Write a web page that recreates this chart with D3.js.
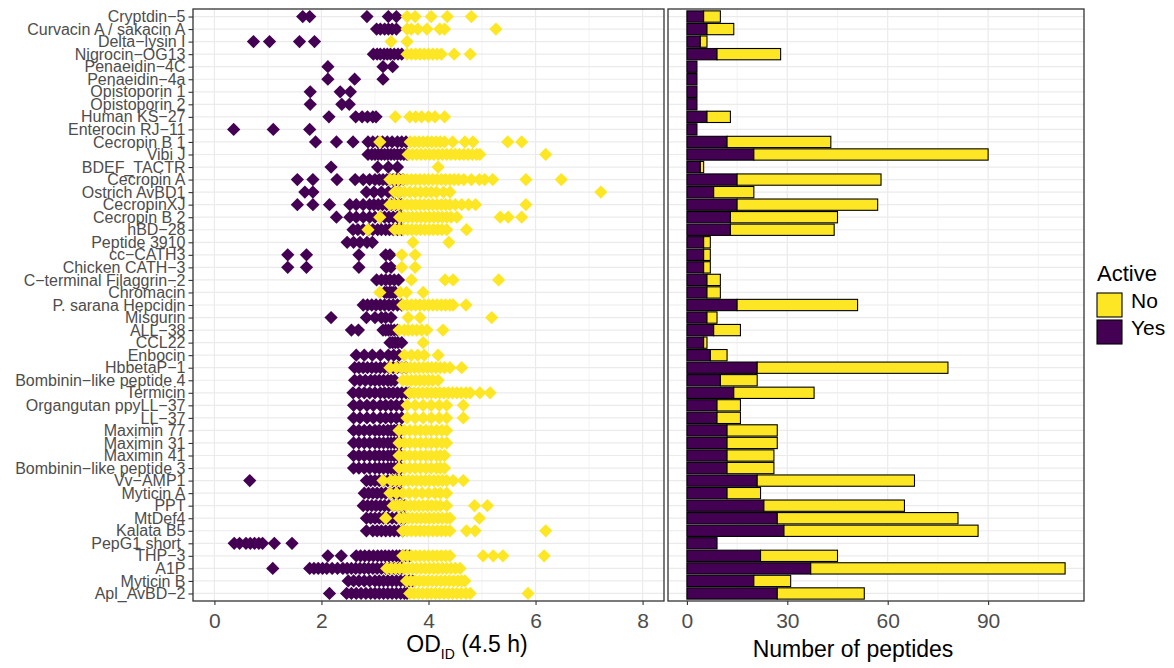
<!DOCTYPE html>
<html>
<head>
<meta charset="utf-8">
<script src="https://cdn.jsdelivr.net/npm/d3@7"></script>
<style>
body { margin: 0; background: #fff; }
svg { display: block; font-family: "Liberation Sans", Arial, sans-serif; }
</style>
</head>
<body>
<svg id="chart"></svg>
<script>
// peptides, top to bottom
const peptides = ["Cryptdin−5", "Curvacin A / sakacin A", "Delta−lysin I", "Nigrocin−OG13", "Penaeidin−4C",
    "Penaeidin−4a", "Opistoporin 1", "Opistoporin 2", "Human KS−27", "Enterocin RJ−11", "Cecropin B 1", "Vibi J",
    "BDEF_TACTR", "Cecropin A", "Ostrich AvBD1", "CecropinXJ", "Cecropin B 2", "hBD−28", "Peptide 3910", "cc−CATH3",
    "Chicken CATH−3", "C−terminal Filaggrin−2", "Chromacin", "P. sarana Hepcidin", "Misgurin", "ALL−38", "CCL22",
    "Enbocin", "HbbetaP−1", "Bombinin−like peptide 4", "Termicin", "Organgutan ppyLL−37", "LL−37", "Maximin 77",
    "Maximin 31", "Maximin 41", "Bombinin−like peptide 3", "Vv−AMP1", "Myticin A", "PPT", "MtDef4", "Kalata B5",
    "PepG1 short ", "THP−3", "A1P", "Myticin B", "Apl_AvBD−2"];

// number of peptides per activity
const yesCount = [5, 6, 4, 9, 3, 3, 3, 3, 6, 3, 12, 20, 4, 15, 8, 15, 13, 13, 5, 5, 5, 6, 6, 15, 6, 8, 5, 7, 21, 10,
    14, 9, 9, 12, 12, 12, 12, 21, 12, 23, 27, 29, 9, 22, 37, 20, 27];
const noCount = [5, 8, 2, 19, 0, 0, 0, 0, 7, 0, 31, 70, 1, 43, 12, 42, 32, 31, 2, 2, 2, 4, 4, 36, 3, 8, 1, 5, 57, 11,
    24, 7, 7, 15, 15, 14, 14, 47, 10, 42, 54, 58, 0, 23, 76, 11, 26];

// OD values of the visible diamonds, active peptides
const odYes = [
    [1.65, 1.78, 2.85, 3.25, 3.4],
    [3.03, 3.1, 3.18, 3.25, 3.32, 3.4],
    [0.73, 1.03, 1.59, 1.87],
    [2.97, 3.04, 3.1, 3.17, 3.23, 3.29, 3.36, 3.43, 3.5],
    [2.12, 3.15, 3.33],
    [2.12, 2.62, 3.15],
    [1.79, 2.35, 2.54],
    [1.79, 2.38, 2.52],
    [2.14, 2.64, 2.76, 2.86, 2.96, 3.02],
    [0.36, 1.1, 1.78],
    [1.89, 2.28, 2.59, 2.87, 2.96, 3.05, 3.14, 3.23, 3.32, 3.42, 3.5, 3.58],
    [2.87, 2.94, 3.0, 3.06, 3.12, 3.18, 3.24, 3.3, 3.36, 3.42, 3.48, 3.54, 3.6],
    [2.18, 3.05, 3.25, 3.42],
    [1.55, 1.84, 2.29, 2.63, 2.78, 2.9, 3.0, 3.08, 3.15, 3.22, 3.28, 3.34, 3.4, 3.46, 3.52],
    [1.69, 1.84, 2.84, 2.98, 3.12, 3.25, 3.35, 3.45],
    [1.55, 1.84, 2.15, 2.53, 2.65, 2.78, 2.9, 2.98, 3.06, 3.14, 3.22, 3.3, 3.38, 3.46, 3.5],
    [2.28, 2.53, 2.65, 2.78, 2.9, 3.0, 3.1, 3.18, 3.26, 3.34, 3.42, 3.48],
    [2.59, 2.68, 2.78, 2.88, 2.96, 3.05, 3.12, 3.2, 3.27, 3.34, 3.42, 3.5],
    [2.48, 2.6, 2.72, 2.85, 2.95],
    [1.37, 1.72, 2.7, 3.2, 3.28],
    [1.37, 1.72, 2.7, 3.21, 3.3],
    [3.03, 3.12, 3.2, 3.28, 3.36, 3.44],
    [3.18, 3.22, 3.27, 3.3, 3.34, 3.38],
    [2.78, 2.86, 2.94, 3.02, 3.1, 3.18, 3.26, 3.34, 3.42, 3.5],
    [2.18, 2.84, 3.0, 3.12, 3.2, 3.3],
    [2.56, 2.69, 3.15, 3.2, 3.25, 3.3, 3.36, 3.42],
    [3.28, 3.33, 3.38, 3.43, 3.5],
    [2.65, 2.8, 2.95, 3.1, 3.25, 3.35, 3.45],
    [2.62, 2.7, 2.78, 2.86, 2.94, 3.02, 3.1, 3.18, 3.26, 3.34, 3.42, 3.5, 3.58],
    [2.62, 2.72, 2.82, 2.92, 3.0, 3.08, 3.16, 3.24, 3.3, 3.37],
    [2.59, 2.7, 2.8, 2.9, 3.0, 3.1, 3.18, 3.26, 3.34, 3.42, 3.5, 3.58, 3.64],
    [2.6, 2.72, 2.85, 2.97, 3.1, 3.2, 3.3, 3.4, 3.5],
    [2.6, 2.72, 2.85, 2.97, 3.1, 3.2, 3.3, 3.4, 3.5],
    [2.6, 2.7, 2.8, 2.9, 3.0, 3.08, 3.16, 3.24, 3.3, 3.36, 3.42, 3.48],
    [2.6, 2.7, 2.8, 2.9, 3.0, 3.08, 3.16, 3.24, 3.3, 3.36, 3.42, 3.48],
    [2.6, 2.7, 2.8, 2.9, 3.0, 3.08, 3.16, 3.24, 3.3, 3.36, 3.42, 3.48],
    [2.6, 2.7, 2.8, 2.9, 3.0, 3.08, 3.16, 3.24, 3.3, 3.36, 3.42, 3.48],
    [0.66, 2.84, 2.92, 3.0, 3.08, 3.16, 3.24, 3.32, 3.4, 3.48],
    [2.8, 2.88, 2.96, 3.04, 3.12, 3.2, 3.28, 3.36, 3.44, 3.5],
    [2.78, 2.86, 2.94, 3.02, 3.1, 3.18, 3.26, 3.34, 3.42, 3.5, 3.56],
    [2.84, 2.92, 3.0, 3.08, 3.16, 3.24, 3.32, 3.4, 3.48, 3.55],
    [2.84, 2.96, 3.04, 3.12, 3.2, 3.28, 3.36, 3.44, 3.52],
    [0.37, 0.47, 0.59, 0.67, 0.75, 0.83, 0.9, 1.12, 1.45],
    [2.12, 2.37, 2.65, 2.73, 2.81, 2.89, 2.97, 3.05, 3.12, 3.19, 3.26, 3.33, 3.4, 3.46, 3.52, 3.58, 3.65],
    [1.09, 1.78, 1.86, 1.94, 2.02, 2.1, 2.2, 2.3, 2.4, 2.48, 2.56, 2.64, 2.72, 2.8, 2.88, 2.96, 3.04, 3.12, 3.2, 3.28, 3.36, 3.44, 3.5],
    [2.5, 2.6, 2.7, 2.8, 2.9, 3.0, 3.08, 3.16, 3.24, 3.32, 3.4, 3.48, 3.56, 3.64, 3.7],
    [2.15, 2.47, 2.56, 2.65, 2.74, 2.83, 2.92, 3.0, 3.08, 3.16, 3.24, 3.32, 3.4, 3.48, 3.55, 3.6]
];

// OD values of the visible diamonds, inactive peptides
const odNo = [
    [3.6, 3.75, 4.05, 4.35, 4.8],
    [3.6, 3.68, 3.8, 3.97, 4.21, 4.3, 5.26],
    [3.3, 3.6],
    [3.6, 3.68, 3.76, 3.84, 3.92, 4.0, 4.08, 4.16, 4.24, 4.48, 4.78],
    [], [], [], [],
    [3.38, 3.65, 3.76, 3.87, 4.0, 4.12, 4.3],
    [],
    [3.09, 3.66, 3.74, 3.82, 3.9, 3.98, 4.06, 4.14, 4.22, 4.3, 4.45, 4.68, 4.83, 5.48, 5.74],
    [3.62, 3.7, 3.78, 3.86, 3.94, 4.02, 4.1, 4.18, 4.26, 4.34, 4.42, 4.5, 4.58, 4.66, 4.74, 4.82, 4.9, 4.96, 6.19],
    [4.18],
    [3.28, 3.36, 3.44, 3.52, 3.6, 3.68, 3.76, 3.84, 3.92, 4.0, 4.08, 4.16, 4.24, 4.32, 4.4, 4.48, 4.56, 4.66, 4.8, 4.95, 5.05, 5.2, 5.82, 6.48],
    [3.37, 3.45, 3.55, 3.65, 3.75, 3.85, 3.95, 4.05, 4.15, 4.28, 4.4, 7.22],
    [3.28, 3.36, 3.44, 3.52, 3.6, 3.68, 3.76, 3.84, 3.92, 4.0, 4.08, 4.16, 4.24, 4.32, 4.4, 4.5, 4.62, 4.75, 4.88, 5.82],
    [3.09, 3.46, 3.54, 3.62, 3.7, 3.78, 3.86, 3.94, 4.02, 4.1, 4.18, 4.26, 4.34, 4.42, 4.53, 5.34, 5.49, 5.74],
    [2.87, 3.37, 3.45, 3.53, 3.61, 3.69, 3.77, 3.85, 3.93, 4.01, 4.09, 4.17, 4.25, 4.34, 4.71],
    [3.71, 4.38],
    [3.5, 3.75],
    [3.5, 3.75],
    [3.68, 4.31, 4.46, 5.31],
    [3.09, 3.47, 3.59, 3.9],
    [3.52, 3.6, 3.68, 3.76, 3.84, 3.92, 4.0, 4.08, 4.16, 4.24, 4.32, 4.4, 4.46, 4.7],
    [3.62, 3.84, 5.18],
    [3.45, 3.55, 3.62, 3.7, 3.78, 3.87, 3.97, 4.27],
    [3.9],
    [3.55, 3.68, 3.8, 3.92, 4.18],
    [3.28, 3.4, 3.5, 3.58, 3.66, 3.74, 3.82, 3.9, 3.98, 4.06, 4.14, 4.22, 4.3, 4.4, 4.62],
    [3.52, 3.6, 3.68, 3.76, 3.84, 3.92, 4.0, 4.08, 4.18],
    [3.65, 3.73, 3.81, 3.89, 3.97, 4.05, 4.13, 4.21, 4.29, 4.37, 4.45, 4.53, 4.61, 4.7, 4.78, 4.96, 5.15],
    [3.6, 3.75, 3.9, 4.05, 4.2, 4.34, 4.65],
    [3.6, 3.75, 3.9, 4.05, 4.2, 4.34, 4.65],
    [3.45, 3.55, 3.65, 3.75, 3.85, 3.95, 4.05, 4.15, 4.25, 4.34],
    [3.45, 3.55, 3.65, 3.75, 3.85, 3.95, 4.05, 4.15, 4.25, 4.34],
    [3.45, 3.55, 3.65, 3.75, 3.85, 3.95, 4.05, 4.15, 4.22, 4.3],
    [3.45, 3.55, 3.65, 3.75, 3.85, 3.95, 4.05, 4.15, 4.22, 4.3],
    [3.15, 3.3, 3.38, 3.46, 3.54, 3.62, 3.7, 3.78, 3.86, 3.94, 4.02, 4.1, 4.18, 4.26, 4.34, 4.46, 4.65],
    [3.28, 3.4, 3.52, 3.64, 3.76, 3.88, 4.0, 4.12, 4.22, 4.34],
    [3.34, 3.42, 3.5, 3.58, 3.66, 3.74, 3.82, 3.9, 3.98, 4.06, 4.14, 4.22, 4.34, 4.86, 5.1],
    [3.2, 3.46, 3.54, 3.62, 3.7, 3.78, 3.86, 3.94, 4.02, 4.1, 4.18, 4.26, 4.34, 4.4, 4.95],
    [3.52, 3.6, 3.68, 3.76, 3.84, 3.92, 4.0, 4.08, 4.16, 4.24, 4.32, 4.4, 4.71, 4.87, 6.19],
    [],
    [3.52, 3.6, 3.68, 3.76, 3.84, 3.92, 4.0, 4.08, 4.16, 4.24, 4.32, 4.4, 5.02, 5.21, 5.39, 6.16],
    [3.22, 3.3, 3.38, 3.46, 3.54, 3.62, 3.7, 3.78, 3.86, 3.94, 4.02, 4.1, 4.18, 4.26, 4.34, 4.42, 4.5, 4.59],
    [3.59, 3.67, 3.75, 3.83, 3.91, 3.99, 4.07, 4.15, 4.23, 4.31, 4.39, 4.47, 4.55, 4.62, 4.68],
    [3.65, 3.73, 3.81, 3.89, 3.97, 4.05, 4.13, 4.21, 4.29, 4.37, 4.45, 4.53, 4.61, 4.7, 4.78, 5.86]
];

const odTicks = [0, 2, 4, 6, 8];
const odMinor = [1, 3, 5, 7];
const countTicks = [0, 30, 60, 90];
const countMinor = [15, 45, 75, 105];
const activeLevels = ["No", "Yes"];

let chart = {
    width: 1174,
    height: 668,
    top: 9,
    bottom: 601,
    leftPanel: [193, 664],
    rightPanel: [668, 1084],
    colors: { No: "#FDE725", Yes: "#440154" },
    grid: "#ebebeb",
    border: "#333333",
    tickText: "#4d4d4d",
    x1: null,
    x2: null,
    y: null,

    makeScales: () => {
        chart.y = d3.scalePoint()
            .domain(peptides)
            .range([chart.top, chart.bottom])
            .padding(0.6)
        chart.x1 = d3.scaleLinear()
            .domain([-0.4, 8.4])
            .range(chart.leftPanel)
        let maxTotal = d3.max(yesCount.map((d, i) => d + noCount[i]))
        chart.x2 = d3.scaleLinear()
            .domain([-0.05 * maxTotal, maxTotal * 1.05])
            .range(chart.rightPanel)
    },

    // grid lines of one panel
    drawGrid: (svg, x, major, minor) => {
        let g = svg.append('g')
        let [x0, x1] = x.range()
        g.selectAll('.minor').data(minor).enter().append('line')
            .attr('x1', d => x(d)).attr('x2', d => x(d))
            .attr('y1', chart.top).attr('y2', chart.bottom)
            .attr('stroke', chart.grid).attr('stroke-width', 0.6)
        g.selectAll('.major').data(major).enter().append('line')
            .attr('x1', d => x(d)).attr('x2', d => x(d))
            .attr('y1', chart.top).attr('y2', chart.bottom)
            .attr('stroke', chart.grid).attr('stroke-width', 1.2)
        g.selectAll('.hline').data(peptides).enter().append('line')
            .attr('x1', x0).attr('x2', x1)
            .attr('y1', d => chart.y(d)).attr('y2', d => chart.y(d))
            .attr('stroke', chart.grid).attr('stroke-width', 1.2)
    },

    drawBorder: (svg, x) => {
        let [x0, x1] = x.range()
        svg.append('rect')
            .attr('x', x0).attr('y', chart.top)
            .attr('width', x1 - x0).attr('height', chart.bottom - chart.top)
            .attr('fill', 'none')
            .attr('stroke', chart.border)
            .attr('stroke-width', 1.3)
    },

    drawXAxis: (svg, x, ticks) => {
        let axis = d3.axisBottom(x).tickValues(ticks).tickSize(4).tickPadding(8)
        let g = svg.append('g')
            .attr('transform', `translate(0, ${chart.bottom})`)
            .call(axis)
        g.select('.domain').remove()
        g.selectAll('line').attr('stroke', chart.border).attr('stroke-width', 1.1)
        g.selectAll('text')
            .attr('font-family', '"Liberation Sans", Arial, sans-serif')
            .attr('font-size', 21)
            .attr('fill', chart.tickText)
    },

    drawYAxis: (svg) => {
        let axis = d3.axisLeft(chart.y).tickSize(4.5).tickPadding(3)
        let g = svg.append('g')
            .attr('transform', `translate(${chart.leftPanel[0]}, 0)`)
            .call(axis)
        g.select('.domain').remove()
        g.selectAll('line').attr('stroke', chart.border).attr('stroke-width', 1.1)
        g.selectAll('text')
            .attr('font-family', '"Liberation Sans", Arial, sans-serif')
            .attr('font-size', 16)
            .attr('fill', chart.tickText)
            .style('white-space', 'pre')
    },

    // strip of diamonds, purple first then yellow on top
    drawStrip: (svg) => {
        let points = []
        peptides.forEach((p, i) => {
            odYes[i].forEach(v => points.push({ p: p, v: v, a: "Yes" }))
        })
        peptides.forEach((p, i) => {
            odNo[i].forEach(v => points.push({ p: p, v: v, a: "No" }))
        })
        let diamond = d3.symbol().type(d3.symbolDiamond2).size(112)
        svg.append('g')
            .selectAll('path')
            .data(points)
            .enter()
            .append('path')
            .attr('d', diamond)
            .attr('transform', d => `translate(${chart.x1(d.v)}, ${chart.y(d.p)})`)
            .attr('fill', d => chart.colors[d.a])
    },

    // stacked bars
    drawBars: (svg) => {
        let rows = peptides.map((p, i) => ({ p: p, Yes: yesCount[i], No: noCount[i] }))
        let stack = d3.stack().keys(["Yes", "No"])(rows)
        let h = chart.y.step() * 0.9
        svg.append('g')
            .selectAll('g')
            .data(stack)
            .enter()
            .append('g')
            .attr('fill', d => chart.colors[d.key])
            .selectAll('rect')
            .data(d => d.filter(s => s[1] > s[0]))
            .enter()
            .append('rect')
            .attr('x', d => chart.x2(d[0]))
            .attr('width', d => chart.x2(d[1]) - chart.x2(d[0]))
            .attr('y', d => chart.y(d.data.p) - h / 2)
            .attr('height', h)
            .attr('stroke', '#000')
            .attr('stroke-width', 1.1)
    },

    drawTitles: (svg) => {
        let t = svg.append('text')
            .attr('x', 467)
            .attr('y', 652)
            .attr('text-anchor', 'middle')
            .attr('font-size', 23)
            .attr('fill', '#000')
        t.append('tspan').text('OD')
        t.append('tspan').attr('font-size', 14).attr('dy', 7).text('ID')
        t.append('tspan').attr('dy', -7).text('\u00a0(4.5 h)')
        svg.append('text')
            .attr('x', 853)
            .attr('y', 657)
            .attr('text-anchor', 'middle')
            .attr('font-size', 23)
            .attr('fill', '#000')
            .text('Number of peptides')
    },

    drawLegend: (svg) => {
        let g = svg.append('g')
        g.append('text')
            .attr('x', 1097).attr('y', 281)
            .attr('font-size', 22)
            .text('Active')
        let item = g.selectAll('.item').data(activeLevels).enter().append('g')
            .attr('transform', (d, i) => `translate(1097, ${293 + i * 27})`)
        item.append('rect')
            .attr('width', 25).attr('height', 24)
            .attr('fill', d => chart.colors[d])
            .attr('stroke', '#000')
            .attr('stroke-width', 1.1)
        item.append('text')
            .attr('x', 34)
            .attr('y', 15)
            .attr('font-size', 21)
            .text(d => d)
    },

    drawMain: () => {
        let svg = d3.select('#chart')
            .attr('width', chart.width)
            .attr('height', chart.height)
        svg.append('rect').attr('width', chart.width).attr('height', chart.height).attr('fill', '#fff')
        chart.makeScales()
        chart.drawGrid(svg, chart.x1, odTicks, odMinor)
        chart.drawGrid(svg, chart.x2, countTicks, countMinor)
        chart.drawStrip(svg)
        chart.drawBars(svg)
        chart.drawBorder(svg, chart.x1)
        chart.drawBorder(svg, chart.x2)
        chart.drawXAxis(svg, chart.x1, odTicks)
        chart.drawXAxis(svg, chart.x2, countTicks)
        chart.drawYAxis(svg)
        chart.drawTitles(svg)
        chart.drawLegend(svg)
    }
}
chart.drawMain()
</script>
</body>
</html>
